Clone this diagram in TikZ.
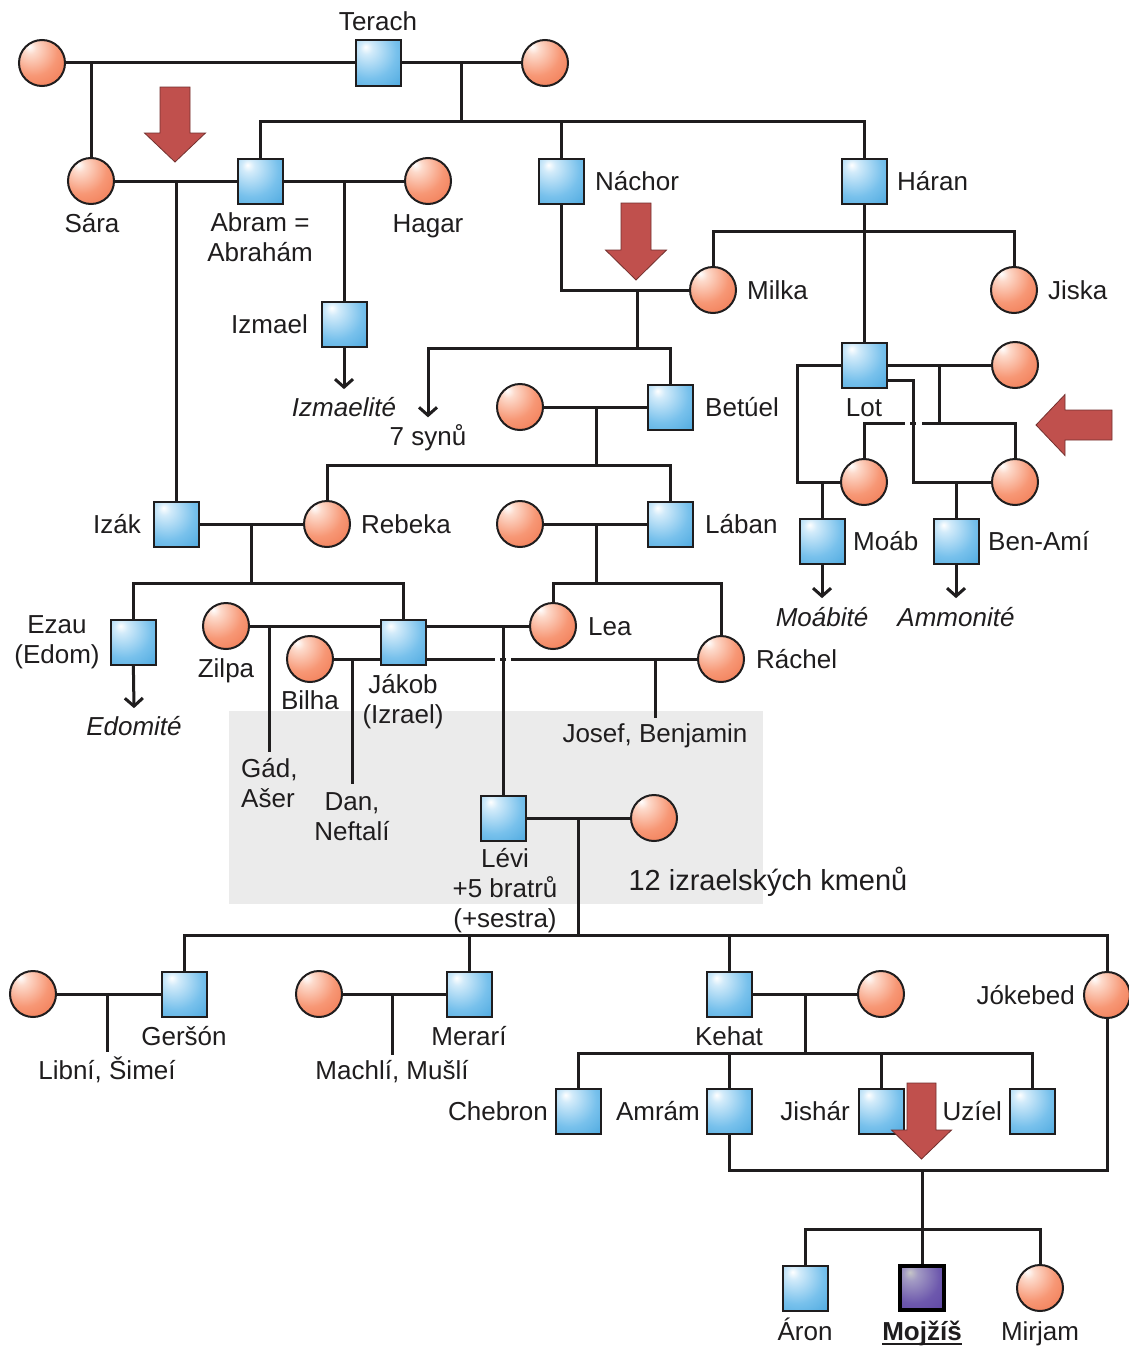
\documentclass[tikz,border=0pt]{standalone}
\usepackage{fontspec}
\setmainfont{Liberation Sans}
\usetikzlibrary{arrows.meta}

\pgfdeclarelayer{boxlayer}
\pgfdeclarelayer{linelayer}
\pgfsetlayers{boxlayer,linelayer,main}

\definecolor{ink}{HTML}{1F1D1E}
\definecolor{bluehi}{HTML}{D2EBFA}
\definecolor{bluemid}{HTML}{78C1EC}
\definecolor{bluelo}{HTML}{2F98D6}
\definecolor{bluedeep}{HTML}{0676B8}
\definecolor{redhi}{HTML}{FDDACB}
\definecolor{redmid}{HTML}{F79775}
\definecolor{redlo}{HTML}{EE6E45}
\definecolor{reddeep}{HTML}{DC4F24}
\definecolor{violtop}{HTML}{C6C6C8}
\definecolor{violhi}{HTML}{A39BC4}
\definecolor{violmid}{HTML}{6D58AD}
\definecolor{viollo}{HTML}{553A9F}
\definecolor{violdeep}{HTML}{43259A}
\definecolor{arrowred}{HTML}{C0504D}
\definecolor{tribebox}{HTML}{EBEBEB}

\pgfdeclareradialshading{maleshade}{\pgfpoint{-14bp}{18bp}}{%
  color(0bp)=(white); color(7bp)=(bluehi); color(30bp)=(bluemid);
  color(62bp)=(bluelo); color(90bp)=(bluedeep); color(100bp)=(bluedeep)}
\pgfdeclareradialshading{femaleshade}{\pgfpoint{-14bp}{18bp}}{%
  color(0bp)=(white); color(7bp)=(redhi); color(27bp)=(redmid);
  color(52bp)=(redlo); color(72bp)=(reddeep); color(100bp)=(reddeep)}
\pgfdeclareradialshading{heroshade}{\pgfpoint{-14bp}{18bp}}{%
  color(0bp)=(violtop); color(8bp)=(violhi); color(30bp)=(violmid);
  color(60bp)=(viollo); color(93bp)=(violdeep); color(100bp)=(violdeep)}

\begin{document}
\begin{tikzpicture}[x=1pt,y=-1pt,
  male/.style={rectangle, draw=ink, line width=2pt, minimum size=45pt,
    inner sep=0pt, shading=maleshade},
  female/.style={circle, draw=ink, line width=2pt, minimum size=46pt,
    inner sep=0pt, shading=femaleshade},
  hero/.style={rectangle, draw=black, line width=3.4pt, minimum size=44pt,
    inner sep=0pt, shading=heroshade},
  lbl/.style={font=\fontsize{26}{30}\selectfont, inner sep=0pt, text=ink},
  kin/.style={draw=ink, line width=3pt},
  desc/.style={kin, -{Straight Barb[length=8pt,width=18pt]}},
  bigarrow/.style={fill=arrowred, draw=arrowred!60!black, line width=0.8pt}]

\useasboundingbox (0,0) rectangle (1128,1346);

% ---------- page and shaded band of the twelve tribes ----------
\begin{pgfonlayer}{boxlayer}
  \fill[white] (0,0) rectangle (1128,1346);
  \fill[tribebox] (229,711) rectangle (763,904);
\end{pgfonlayer}

% ---------- people ----------
\node[female] (w1) at (42,63) {};
\node[male] (terach) at (378,63) {};
\node[female] (w2) at (545,63) {};

\node[female] (sara) at (91,181) {};
\node[male] (abram) at (260,181) {};
\node[female] (hagar) at (428,181) {};
\node[male] (nachor) at (561,181) {};
\node[male] (haran) at (864,181) {};

\node[female] (milka) at (713,290) {};
\node[female] (jiska) at (1014,290) {};
\node[male] (izmael) at (344,324) {};

\node[female] (betw) at (520,407) {};
\node[male] (betuel) at (670,407) {};
\node[male] (lot) at (864,365) {};
\node[female] (lotw) at (1015,365) {};
\node[female] (lotd1) at (864,482) {};
\node[female] (lotd2) at (1015,482) {};

\node[male] (izak) at (176,524) {};
\node[female] (rebeka) at (327,524) {};
\node[female] (labw) at (520,524) {};
\node[male] (laban) at (670,524) {};
\node[male] (moab) at (822,541) {};
\node[male] (benami) at (956,541) {};

\node[male] (ezau) at (133,642) {};
\node[female] (zilpa) at (226,626) {};
\node[female] (bilha) at (310,659) {};
\node[male] (jakob) at (403,642) {};
\node[female] (lea) at (553,626) {};
\node[female] (rachel) at (721,659) {};

\node[male] (levi) at (503,818) {};
\node[female] (leviw) at (654,818) {};

\node[female] (gersw) at (33,994) {};
\node[male] (gerson) at (184,994) {};
\node[female] (merw) at (319,994) {};
\node[male] (merari) at (469,994) {};
\node[male] (kehat) at (729,994) {};
\node[female] (kehw) at (881,994) {};
\node[female] (jokebed) at (1107,995) {};

\node[male] (chebron) at (578,1111) {};
\node[male] (amram) at (729,1111) {};
\node[male] (jishar) at (881,1111) {};
\node[male] (uziel) at (1032,1111) {};

\node[male] (aron) at (805,1288) {};
\node[hero] (mojzis) at (922,1288) {};
\node[female] (mirjam) at (1040,1288) {};

% ---------- names ----------
\node[lbl, anchor=base] (tterach) at (378,30.5) {Terach};
\node[lbl, anchor=base] (tsara) at (92,232) {Sára};
\node[lbl, anchor=north, align=center] (tabram) at (260,212.5) {Abram =\\Abrahám};
\node[lbl, anchor=base] (thagar) at (428,232) {Hagar};
\node[lbl, anchor=base west] (tnachor) at (595,190.5) {Náchor};
\node[lbl, anchor=base west] (tharan) at (897,190.5) {Háran};
\node[lbl, anchor=base west] (tmilka) at (747,299.5) {Milka};
\node[lbl, anchor=base west] (tjiska) at (1048,299.5) {Jiska};
\node[lbl, anchor=base east] (tizmael) at (308,333.5) {Izmael};
\node[lbl, anchor=base, font=\fontsize{26}{30}\selectfont\itshape] (tizmt) at (344,416.5) {Izmaelité};
\node[lbl, anchor=base] (tsyn) at (428,445.5) {7 synů};
\node[lbl, anchor=base west] (tbetuel) at (705,416.5) {Betúel};
\node[lbl, anchor=base] (tlot) at (864,416.5) {Lot};
\node[lbl, anchor=base east] (tizak) at (141,533.5) {Izák};
\node[lbl, anchor=base west] (trebeka) at (361,533.5) {Rebeka};
\node[lbl, anchor=base west] (tlaban) at (705,533.5) {Lában};
\node[lbl, anchor=base west] (tmoab) at (853,550.5) {Moáb};
\node[lbl, anchor=base west] (tbenami) at (988,550.5) {Ben-Amí};
\node[lbl, anchor=base, font=\fontsize{26}{30}\selectfont\itshape] (tmoabt) at (822,626.5) {Moábité};
\node[lbl, anchor=base, font=\fontsize{26}{30}\selectfont\itshape] (tammt) at (956,626.5) {Ammonité};
\node[lbl, anchor=north, align=center] (tezau) at (57,615.5) {Ezau\\(Edom)};
\node[lbl, anchor=base, font=\fontsize{26}{30}\selectfont\itshape] (tedomt) at (134,735.5) {Edomité};
\node[lbl, anchor=base] (tzilpa) at (226,677.5) {Zilpa};
\node[lbl, anchor=base] (tbilha) at (310,709.5) {Bilha};
\node[lbl, anchor=north, align=center] (tjakob) at (403,674.5) {Jákob\\(Izrael)};
\node[lbl, anchor=base west] (tlea) at (588,635.5) {Lea};
\node[lbl, anchor=base west] (trachel) at (756,668.5) {Ráchel};
\node[lbl, anchor=base] (tjosef) at (655,742.5) {Josef, Benjamin};
\node[lbl, anchor=north west, align=left] (tgad) at (241,758.5) {Gád,\\Ašer};
\node[lbl, anchor=north, align=center] (tdan) at (352,792.5) {Dan,\\Neftalí};
\node[lbl, anchor=north, align=center] (tlevi) at (505,848.5) {Lévi\\+5 bratrů\\(+sestra)};
\node[lbl, anchor=base, font=\fontsize{29}{34}\selectfont] (ttribes) at (768,890.5) {12 izraelských kmenů};
\node[lbl, anchor=base] (tgerson) at (184,1045.5) {Geršón};
\node[lbl, anchor=base] (tlibni) at (107,1079.5) {Libní, Šimeí};
\node[lbl, anchor=base] (tmerari) at (469,1045.5) {Merarí};
\node[lbl, anchor=base] (tmachli) at (392,1079.5) {Machlí, Mušlí};
\node[lbl, anchor=base] (tkehat) at (729,1045.5) {Kehat};
\node[lbl, anchor=base east] (tjokebed) at (1075,1004.5) {Jókebed};
\node[lbl, anchor=base east] (tchebron) at (548,1120.5) {Chebron};
\node[lbl, anchor=base east] (tamram) at (700,1120.5) {Amrám};
\node[lbl, anchor=base east] (tjishar) at (850,1120.5) {Jishár};
\node[lbl, anchor=base east] (tuziel) at (1002,1120.5) {Uzíel};
\node[lbl, anchor=base] (taron) at (805,1340) {Áron};
\node[lbl, anchor=base, font=\fontsize{26}{30}\selectfont\bfseries] (tmojzis) at (922,1340) {Mojžíš};
\node[lbl, anchor=base] (tmirjam) at (1040,1340) {Mirjam};
\draw[ink, line width=2pt] ([yshift=-3.5pt]tmojzis.base west) -- ([yshift=-3.5pt]tmojzis.base east);

% ---------- family lines ----------
\begin{pgfonlayer}{linelayer}
  % Terach
  \coordinate (t1) at (461,63);
  \coordinate (t2) at (461,121);
  \draw[kin] (w1) -- (w2);
  \draw[kin] (sara |- w1) -- (sara);
  \draw[kin] (t1) -- (t2);
  \draw[kin] (abram) -- (abram |- t2) -- (haran |- t2) -- (haran);
  \draw[kin] (nachor |- t2) -- (nachor);
  % Abram
  \draw[kin] (sara) -- (hagar);
  \draw[kin] (izak |- sara) -- (izak);
  \draw[kin] (izmael |- hagar) -- (izmael);
  \draw[desc] (izmael) -- ([yshift=8pt]tizmt.north);
  % Nachor
  \coordinate (n1) at (637,290);
  \coordinate (n2) at (637,348);
  \draw[kin] (nachor) -- (nachor |- milka) -- (milka);
  \draw[kin] (n1) -- (n2);
  \draw[desc] (betuel) -- (betuel |- n2) -- (tsyn.north |- n2) -- ([yshift=7pt]tsyn.north);
  % Haran
  \coordinate (h1) at (864,231);
  \draw[kin] (haran) -- (lot);
  \draw[kin] (milka) -- (milka |- h1) -- (jiska |- h1) -- (jiska);
  % Betuel
  \coordinate (b1) at (596,407);
  \coordinate (b2) at (596,465);
  \draw[kin] (betw) -- (betuel);
  \draw[kin] (b1) -- (b2);
  \draw[kin] (rebeka) -- (rebeka |- b2) -- (laban |- b2) -- (laban);
  % Lot and his daughters
  \coordinate (m1) at (797,365);
  \coordinate (m2) at (913,380);
  \coordinate (m3) at (939,423);
  \coordinate (g1) at (905,423);
  \coordinate (g2) at (922,423);
  \coordinate (gd1) at (910,423);
  \coordinate (gd2) at (916,423);
  \draw[kin] (lot) -- (lotw);
  \draw[kin] (lot) -- (m1) -- (m1 |- lotd1) -- (lotd1);
  \draw[kin] ([yshift=-15pt]lot.center) -- (m2) -- (m2 |- lotd2) -- (lotd2);
  \draw[kin] (m3 |- lotw) -- (m3);
  \draw[kin] (lotd1) -- (lotd1 |- m3) -- (g1);
  \draw[kin] (gd1) -- (gd2);
  \draw[kin] (g2) -- (lotd2 |- m3) -- (lotd2);
  \draw[kin] (moab |- lotd1) -- (moab);
  \draw[kin] (benami |- lotd2) -- (benami);
  \draw[desc] (moab) -- ([yshift=9pt]tmoabt.north);
  \draw[desc] (benami) -- ([yshift=9pt]tammt.north);
  % Izak
  \coordinate (i1) at (251,524);
  \coordinate (i2) at (251,583);
  \draw[kin] (izak) -- (rebeka);
  \draw[kin] (i1) -- (i2);
  \draw[kin] (ezau) -- (ezau |- i2) -- (jakob |- i2) -- (jakob);
  \draw[desc] (ezau) -- ([yshift=8pt]tedomt.north);
  % Laban
  \coordinate (l1) at (596,524);
  \coordinate (l2) at (596,583);
  \draw[kin] (labw) -- (laban);
  \draw[kin] (l1) -- (l2);
  \draw[kin] (lea) -- (lea |- l2) -- (rachel |- l2) -- (rachel);
  % Jakob
  \coordinate (jg1) at (495,659);
  \coordinate (jg2) at (511,659);
  \coordinate (jd1) at (500,659);
  \coordinate (jd2) at (506,659);
  \draw[kin] (zilpa) -- (lea);
  \draw[kin] (bilha) -- (jg1);
  \draw[kin] (jd1) -- (jd2);
  \draw[kin] (jg2) -- (rachel);
  \draw[kin] (levi |- zilpa) -- (levi);
  \draw[kin] (tgad.north |- zilpa) -- ([yshift=7pt]tgad.north);
  \draw[kin] (tdan.north |- bilha) -- ([yshift=9pt]tdan.north);
  \draw[kin] (tjosef.north |- rachel) -- ([yshift=5pt]tjosef.north);
  % Levi
  \coordinate (v1) at (578,818);
  \coordinate (v2) at (578,935);
  \draw[kin] (levi) -- (leviw);
  \draw[kin] (v1) -- (v2);
  \draw[kin] (gerson) -- (gerson |- v2) -- (jokebed |- v2) -- (jokebed);
  \draw[kin] (merari |- v2) -- (merari);
  \draw[kin] (kehat |- v2) -- (kehat);
  % Gerson, Merari
  \draw[kin] (gersw) -- (gerson);
  \draw[kin] (tlibni.north |- gerson) -- ([yshift=5pt]tlibni.north);
  \draw[kin] (merw) -- (merari);
  \draw[kin] (tmachli.north |- merari) -- ([yshift=5pt]tmachli.north);
  % Kehat
  \coordinate (k1) at (805,994);
  \coordinate (k2) at (805,1053);
  \draw[kin] (kehat) -- (kehw);
  \draw[kin] (k1) -- (k2);
  \draw[kin] (chebron) -- (chebron |- k2) -- (uziel |- k2) -- (uziel);
  \draw[kin] (amram |- k2) -- (amram);
  \draw[kin] (jishar |- k2) -- (jishar);
  % Amram and Jokebed
  \coordinate (a1) at (922,1170);
  \coordinate (a2) at (922,1229);
  \draw[kin] (amram) -- (amram |- a1) -- (jokebed |- a1) -- (jokebed);
  \draw[kin] (a1) -- (a2);
  \draw[kin] (aron) -- (aron |- a2) -- (mirjam |- a2) -- (mirjam);
  \draw[kin] (mojzis |- a2) -- (mojzis);
\end{pgfonlayer}

% ---------- red pointer arrows ----------
\draw[bigarrow] (160,87) -- (190,87) -- (190,133) -- (205.5,133) -- (175,162)
  -- (144.5,133) -- (160,133) -- cycle;
\draw[bigarrow] (621,203) -- (651,203) -- (651,250) -- (666.5,250) -- (636,280)
  -- (605.5,250) -- (621,250) -- cycle;
\draw[bigarrow] (907,1083) -- (936,1083) -- (936,1130) -- (951.5,1130) -- (921.5,1159)
  -- (891.5,1130) -- (907,1130) -- cycle;
\draw[bigarrow] (1112,410) -- (1065,410) -- (1065,394.5) -- (1036,425)
  -- (1065,455.5) -- (1065,440) -- (1112,440) -- cycle;

\end{tikzpicture}
\end{document}
